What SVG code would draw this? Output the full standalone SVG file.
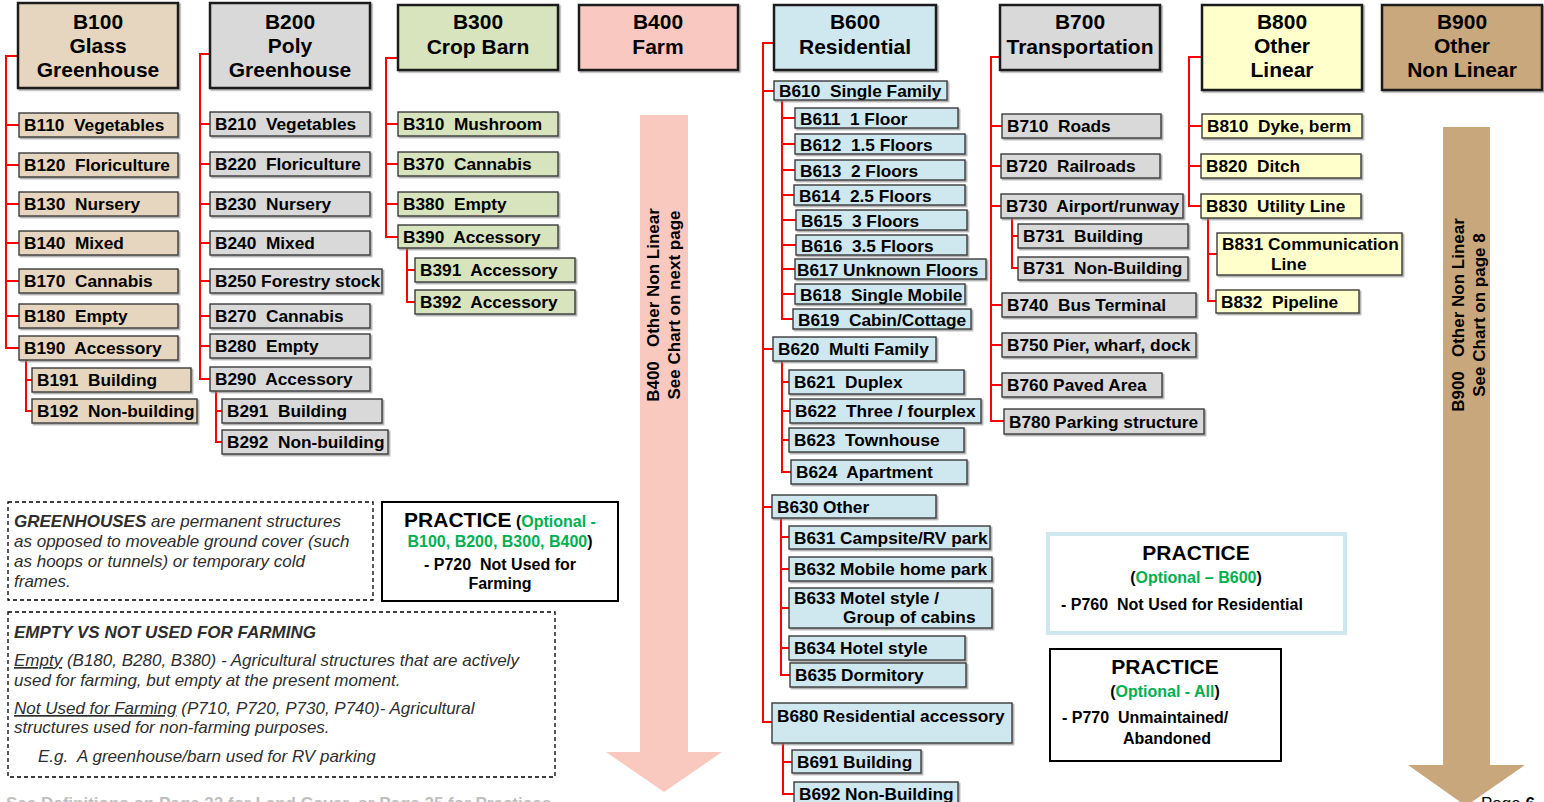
<svg xmlns="http://www.w3.org/2000/svg" width="1544" height="802" viewBox="0 0 1544 802">
<defs>
<filter id="sh" x="-5%" y="-10%" width="115%" height="130%">
<feDropShadow dx="1.5" dy="1.5" stdDeviation="0.6" flood-color="#808080" flood-opacity="0.7"/>
</filter>
</defs>
<style>
text{font-family:"Liberation Sans",Arial,sans-serif;white-space:pre}
.hd{stroke:#1a1a1a;stroke-width:2.5;filter:url(#sh)}
.ch{stroke:#3a3a3a;stroke-width:1.4;filter:url(#sh)}
.ht{font-weight:bold;font-size:21px;text-anchor:middle;fill:#000}
.ct{font-weight:bold;font-size:17.3px;fill:#000}
.c1{fill:#e6d6bf}.c2{fill:#d9d9d9}.c3{fill:#d7e4bd}.c4{fill:#f9c9c1}.c6{fill:#cfe7ef}.c8{fill:#ffffcc}.c9{fill:#c9a87d}
.conn{stroke:#ff0000;stroke-width:2;fill:none}
.note{font-style:italic;font-size:17px;fill:#2e2e2e}
.pb{font-weight:bold;fill:#000}
.gr{fill:#00b050}
.dash{fill:none;stroke:#000;stroke-width:1.3;stroke-dasharray:4 3}
.arrtxt{font-weight:bold;font-size:17px;text-anchor:middle;fill:#000}
</style>
<rect x="0" y="0" width="1544" height="802" fill="#ffffff"/>

<g id="connectors">
<path class="conn" d="M18,56 H6 V348 H19 M6,125 H19 M6,165 H19 M6,204 H19 M6,243 H19 M6,281 H19 M6,316 H19 M26,360 V411 H32 M26,380 H32"/>
<path class="conn" d="M210,54 H200 V379 H210 M200,124 H210 M200,164 H210 M200,204 H210 M200,243 H210 M200,281 H210 M200,316 H210 M200,346 H210 M216,391 V442 H222 M216,411 H222"/>
<path class="conn" d="M398,58 H386 V237 H398 M386,124 H398 M386,164 H398 M386,204 H398 M407,248 V302 H415 M407,270 H415"/>
<path class="conn" d="M774,43 H763 V722 H772 M763,91 H774 M763,349 H773 M763,507 H772 M782,100 V319 H793 M782,118 H795 M782,144 H795 M782,170 H795 M782,195 H794 M782,220 H796 M782,245 H796 M782,269 H795 M782,294 H795 M782,361 V472 H791 M782,382 H789 M782,411 H790 M782,440 H789 M781,518 V675 H790 M781,537 H789 M781,569 H789 M781,608 H789 M781,648 H789 M783,743 V794 H794 M783,762 H792"/>
<path class="conn" d="M1000,57 H991 V421 H1004 M991,126 H1002 M991,166 H1001 M991,206 H1001 M991,305 H1002 M991,345 H1002 M991,385 H1002 M1012,218 V268 H1018 M1012,236 H1018"/>
<path class="conn" d="M1202,57 H1189 V206 H1201 M1189,126 H1202 M1189,166 H1201 M1208,218 V301 H1216 M1208,254 H1217"/>
</g>

<g id="arrow-b400">
<polygon points="640,115 688,115 688,752 722,752 664,792 606,752 640,752" fill="#f9c9c0"/>
<text class="arrtxt" transform="translate(659,305) rotate(-90)">B400   Other Non Linear</text>
<text class="arrtxt" transform="translate(680,305) rotate(-90)">See Chart on next page</text>
</g>
<g id="arrow-b900">
<polygon points="1443,127 1490,127 1490,765 1525,765 1466,806 1408,765 1443,765" fill="#c9a77c"/>
<text class="arrtxt" transform="translate(1464,315) rotate(-90)">B900   Other Non Linear</text>
<text class="arrtxt" transform="translate(1485,315) rotate(-90)">See Chart on page 8</text>
</g>

<g id="b100">
<rect class="hd c1" x="18" y="3" width="160" height="85"/>
<text class="ht" x="98" y="29">B100</text><text class="ht" x="98" y="53">Glass</text><text class="ht" x="98" y="77">Greenhouse</text>
</g>
<g id="b110"><rect class="ch c1" x="19" y="113" width="159" height="24"/><text class="ct" x="24" y="131">B110  Vegetables</text></g>
<g id="b120"><rect class="ch c1" x="19" y="153" width="159" height="24"/><text class="ct" x="24" y="171">B120  Floriculture</text></g>
<g id="b130"><rect class="ch c1" x="19" y="192" width="159" height="24"/><text class="ct" x="24" y="210">B130  Nursery</text></g>
<g id="b140"><rect class="ch c1" x="19" y="231" width="159" height="24"/><text class="ct" x="24" y="249">B140  Mixed</text></g>
<g id="b170"><rect class="ch c1" x="19" y="269" width="159" height="24"/><text class="ct" x="24" y="287">B170  Cannabis</text></g>
<g id="b180"><rect class="ch c1" x="19" y="304" width="159" height="24"/><text class="ct" x="24" y="322">B180  Empty</text></g>
<g id="b190"><rect class="ch c1" x="19" y="336" width="159" height="24"/><text class="ct" x="24" y="354">B190  Accessory</text></g>
<g id="b191"><rect class="ch c1" x="32" y="368" width="159" height="24"/><text class="ct" x="37" y="386">B191  Building</text></g>
<g id="b192"><rect class="ch c1" x="32" y="399" width="165" height="24"/><text class="ct" x="37" y="417">B192  Non-building</text></g>

<g id="b200">
<rect class="hd c2" x="210" y="3" width="160" height="85"/>
<text class="ht" x="290" y="29">B200</text><text class="ht" x="290" y="53">Poly</text><text class="ht" x="290" y="77">Greenhouse</text>
</g>
<g id="b210"><rect class="ch c2" x="210" y="112" width="160" height="24"/><text class="ct" x="215" y="130">B210  Vegetables</text></g>
<g id="b220"><rect class="ch c2" x="210" y="152" width="160" height="24"/><text class="ct" x="215" y="170">B220  Floriculture</text></g>
<g id="b230"><rect class="ch c2" x="210" y="192" width="160" height="24"/><text class="ct" x="215" y="210">B230  Nursery</text></g>
<g id="b240"><rect class="ch c2" x="210" y="231" width="160" height="24"/><text class="ct" x="215" y="249">B240  Mixed</text></g>
<g id="b250"><rect class="ch c2" x="210" y="269" width="172" height="24"/><text class="ct" x="215" y="287">B250 Forestry stock</text></g>
<g id="b270"><rect class="ch c2" x="210" y="304" width="160" height="24"/><text class="ct" x="215" y="322">B270  Cannabis</text></g>
<g id="b280"><rect class="ch c2" x="210" y="334" width="160" height="24"/><text class="ct" x="215" y="352">B280  Empty</text></g>
<g id="b290"><rect class="ch c2" x="210" y="367" width="160" height="24"/><text class="ct" x="215" y="385">B290  Accessory</text></g>
<g id="b291"><rect class="ch c2" x="222" y="399" width="160" height="24"/><text class="ct" x="227" y="417">B291  Building</text></g>
<g id="b292"><rect class="ch c2" x="222" y="430" width="166" height="24"/><text class="ct" x="227" y="448">B292  Non-building</text></g>

<g id="b300">
<rect class="hd c3" x="398" y="5" width="160" height="65"/>
<text class="ht" x="478" y="29">B300</text><text class="ht" x="478" y="54">Crop Barn</text>
</g>
<g id="b310"><rect class="ch c3" x="398" y="112" width="160" height="24"/><text class="ct" x="403" y="130">B310  Mushroom</text></g>
<g id="b370"><rect class="ch c3" x="398" y="152" width="160" height="24"/><text class="ct" x="403" y="170">B370  Cannabis</text></g>
<g id="b380"><rect class="ch c3" x="398" y="192" width="160" height="24"/><text class="ct" x="403" y="210">B380  Empty</text></g>
<g id="b390"><rect class="ch c3" x="398" y="225" width="160" height="23"/><text class="ct" x="403" y="243">B390  Accessory</text></g>
<g id="b391"><rect class="ch c3" x="415" y="258" width="160" height="24"/><text class="ct" x="420" y="276">B391  Accessory</text></g>
<g id="b392"><rect class="ch c3" x="415" y="290" width="160" height="24"/><text class="ct" x="420" y="308">B392  Accessory</text></g>

<g id="b400">
<rect class="hd c4" x="579" y="5" width="159" height="65"/>
<text class="ht" x="658" y="29">B400</text><text class="ht" x="658" y="54">Farm</text>
</g>

<g id="b600">
<rect class="hd c6" x="774" y="5" width="162" height="65"/>
<text class="ht" x="855" y="29">B600</text><text class="ht" x="855" y="54">Residential</text>
</g>
<g id="b610"><rect class="ch c6" x="774" y="81" width="173" height="19"/><text class="ct" x="779" y="97">B610  Single Family</text></g>
<g id="b611"><rect class="ch c6" x="795" y="108" width="163" height="20"/><text class="ct" x="800" y="125">B611  1 Floor</text></g>
<g id="b612"><rect class="ch c6" x="795" y="134" width="170" height="20"/><text class="ct" x="800" y="151">B612  1.5 Floors</text></g>
<g id="b613"><rect class="ch c6" x="795" y="160" width="170" height="20"/><text class="ct" x="800" y="177">B613  2 Floors</text></g>
<g id="b614"><rect class="ch c6" x="794" y="185" width="171" height="20"/><text class="ct" x="799" y="202">B614  2.5 Floors</text></g>
<g id="b615"><rect class="ch c6" x="796" y="210" width="171" height="20"/><text class="ct" x="801" y="227">B615  3 Floors</text></g>
<g id="b616"><rect class="ch c6" x="796" y="235" width="171" height="20"/><text class="ct" x="801" y="252">B616  3.5 Floors</text></g>
<g id="b617"><rect class="ch c6" x="795" y="259" width="191" height="20"/><text class="ct" x="797" y="276">B617 Unknown Floors</text></g>
<g id="b618"><rect class="ch c6" x="795" y="284" width="170" height="20"/><text class="ct" x="800" y="301">B618  Single Mobile</text></g>
<g id="b619"><rect class="ch c6" x="793" y="309" width="178" height="20"/><text class="ct" x="798" y="326">B619  Cabin/Cottage</text></g>
<g id="b620"><rect class="ch c6" x="773" y="337" width="163" height="24"/><text class="ct" x="778" y="355">B620  Multi Family</text></g>
<g id="b621"><rect class="ch c6" x="789" y="370" width="175" height="24"/><text class="ct" x="794" y="388">B621  Duplex</text></g>
<g id="b622"><rect class="ch c6" x="790" y="399" width="191" height="24"/><text class="ct" x="795" y="417">B622  Three / fourplex</text></g>
<g id="b623"><rect class="ch c6" x="789" y="428" width="175" height="24"/><text class="ct" x="794" y="446">B623  Townhouse</text></g>
<g id="b624"><rect class="ch c6" x="791" y="460" width="176" height="24"/><text class="ct" x="796" y="478">B624  Apartment</text></g>
<g id="b630"><rect class="ch c6" x="772" y="495" width="164" height="23"/><text class="ct" x="777" y="513">B630 Other</text></g>
<g id="b631"><rect class="ch c6" x="789" y="526" width="201" height="23"/><text class="ct" x="794" y="544">B631 Campsite/RV park</text></g>
<g id="b632"><rect class="ch c6" x="789" y="557" width="203" height="24"/><text class="ct" x="794" y="575">B632 Mobile home park</text></g>
<g id="b633"><rect class="ch c6" x="789" y="588" width="203" height="40"/><text class="ct" x="794" y="604">B633 Motel style /</text><text class="ct" x="843" y="623">Group of cabins</text></g>
<g id="b634"><rect class="ch c6" x="789" y="636" width="176" height="24"/><text class="ct" x="794" y="654">B634 Hotel style</text></g>
<g id="b635"><rect class="ch c6" x="790" y="663" width="176" height="24"/><text class="ct" x="795" y="681">B635 Dormitory</text></g>
<g id="b680"><rect class="ch c6" x="772" y="703" width="240" height="40"/><text class="ct" x="777" y="722">B680 Residential accessory</text></g>
<g id="b691"><rect class="ch c6" x="792" y="750" width="129" height="23"/><text class="ct" x="797" y="768">B691 Building</text></g>
<g id="b692"><rect class="ch c6" x="794" y="782" width="164" height="24"/><text class="ct" x="799" y="800">B692 Non-Building</text></g>

<g id="b700">
<rect class="hd c2" x="1000" y="5" width="160" height="65"/>
<text class="ht" x="1080" y="29">B700</text><text class="ht" x="1080" y="54">Transportation</text>
</g>
<g id="b710"><rect class="ch c2" x="1002" y="114" width="159" height="24"/><text class="ct" x="1007" y="132">B710  Roads</text></g>
<g id="b720"><rect class="ch c2" x="1001" y="154" width="159" height="24"/><text class="ct" x="1006" y="172">B720  Railroads</text></g>
<g id="b730"><rect class="ch c2" x="1001" y="194" width="182" height="24"/><text class="ct" x="1006" y="212">B730  Airport/runway</text></g>
<g id="b731a"><rect class="ch c2" x="1018" y="224" width="170" height="24"/><text class="ct" x="1023" y="242">B731  Building</text></g>
<g id="b731b"><rect class="ch c2" x="1018" y="257" width="170" height="23"/><text class="ct" x="1023" y="274">B731  Non-Building</text></g>
<g id="b740"><rect class="ch c2" x="1002" y="293" width="194" height="24"/><text class="ct" x="1007" y="311">B740  Bus Terminal</text></g>
<g id="b750"><rect class="ch c2" x="1002" y="333" width="194" height="24"/><text class="ct" x="1007" y="351">B750 Pier, wharf, dock</text></g>
<g id="b760"><rect class="ch c2" x="1002" y="373" width="160" height="24"/><text class="ct" x="1007" y="391">B760 Paved Area</text></g>
<g id="b780"><rect class="ch c2" x="1004" y="409" width="200" height="25"/><text class="ct" x="1009" y="428">B780 Parking structure</text></g>

<g id="b800">
<rect class="hd c8" x="1202" y="5" width="160" height="85"/>
<text class="ht" x="1282" y="29">B800</text><text class="ht" x="1282" y="53">Other</text><text class="ht" x="1282" y="77">Linear</text>
</g>
<g id="b810"><rect class="ch c8" x="1202" y="114" width="160" height="24"/><text class="ct" x="1207" y="132">B810  Dyke, berm</text></g>
<g id="b820"><rect class="ch c8" x="1201" y="154" width="160" height="24"/><text class="ct" x="1206" y="172">B820  Ditch</text></g>
<g id="b830"><rect class="ch c8" x="1201" y="194" width="160" height="24"/><text class="ct" x="1206" y="212">B830  Utility Line</text></g>
<g id="b831"><rect class="ch c8" x="1217" y="233" width="185" height="42"/><text class="ct" x="1222" y="250">B831 Communication</text><text class="ct" x="1271" y="270">Line</text></g>
<g id="b832"><rect class="ch c8" x="1216" y="290" width="143" height="23"/><text class="ct" x="1221" y="308">B832  Pipeline</text></g>

<g id="b900">
<rect class="hd c9" x="1382" y="5" width="160" height="85"/>
<text class="ht" x="1462" y="29">B900</text><text class="ht" x="1462" y="53">Other</text><text class="ht" x="1462" y="77">Non Linear</text>
</g>

<g id="note-greenhouses">
<rect class="dash" x="8" y="502" width="365" height="98"/>
<text class="note" x="14" y="527"><tspan font-weight="bold">GREENHOUSES</tspan> are permanent structures</text>
<text class="note" x="14" y="547">as opposed to moveable ground cover (such</text>
<text class="note" x="14" y="567">as hoops or tunnels) or temporary cold</text>
<text class="note" x="14" y="587">frames.</text>
</g>

<g id="practice-1">
<rect x="382" y="502" width="236" height="99" fill="#fff" stroke="#000" stroke-width="2"/>
<text class="pb" x="500" y="527" text-anchor="middle"><tspan font-size="21">PRACTICE</tspan><tspan font-size="16"> (</tspan><tspan font-size="16" class="gr">Optional -</tspan></text>
<text class="pb" x="500" y="547" text-anchor="middle" font-size="16"><tspan class="gr">B100, B200, B300, B400</tspan>)</text>
<text class="pb" x="500" y="570" text-anchor="middle" font-size="16">- P720  Not Used for</text>
<text class="pb" x="500" y="589" text-anchor="middle" font-size="16">Farming</text>
</g>

<g id="note-empty">
<rect class="dash" x="8" y="612" width="547" height="165"/>
<text class="note" x="14" y="638" font-weight="bold">EMPTY VS NOT USED FOR FARMING</text>
<text class="note" x="14" y="666"><tspan text-decoration="underline">Empty</tspan> (B180, B280, B380) - Agricultural structures that are actively</text>
<text class="note" x="14" y="686">used for farming, but empty at the present moment.</text>
<text class="note" x="14" y="714"><tspan text-decoration="underline">Not Used for Farming</tspan> (P710, P720, P730, P740)- Agricultural</text>
<text class="note" x="14" y="733">structures used for non-farming purposes.</text>
<text class="note" x="38" y="762">E.g.  A greenhouse/barn used for RV parking</text>
</g>

<g id="practice-2">
<rect x="1048" y="534" width="297" height="99" fill="#fff" stroke="#cfe7ef" stroke-width="4"/>
<text class="pb" x="1196" y="560" text-anchor="middle" font-size="21">PRACTICE</text>
<text class="pb" x="1196" y="583" text-anchor="middle" font-size="16">(<tspan class="gr">Optional – B600</tspan>)</text>
<text class="pb" x="1061" y="610" font-size="16">- P760  Not Used for Residential</text>
</g>

<g id="practice-3">
<rect x="1050" y="649" width="231" height="112" fill="#fff" stroke="#000" stroke-width="2"/>
<text class="pb" x="1165" y="674" text-anchor="middle" font-size="21">PRACTICE</text>
<text class="pb" x="1165" y="697" text-anchor="middle" font-size="16">(<tspan class="gr">Optional - All</tspan>)</text>
<text class="pb" x="1062" y="723" font-size="16">- P770  Unmaintained/</text>
<text class="pb" x="1123" y="744" font-size="16">Abandoned</text>
</g>

<g id="footer">
<text x="6" y="809" font-size="17" font-weight="bold" fill="#bfbfbf">See Definitions on Page 22 for Land Cover, or Page 25 for Practices</text>
<text x="1481" y="809" font-size="17" fill="#000">Page <tspan font-weight="bold">6</tspan></text>
</g>
</svg>
